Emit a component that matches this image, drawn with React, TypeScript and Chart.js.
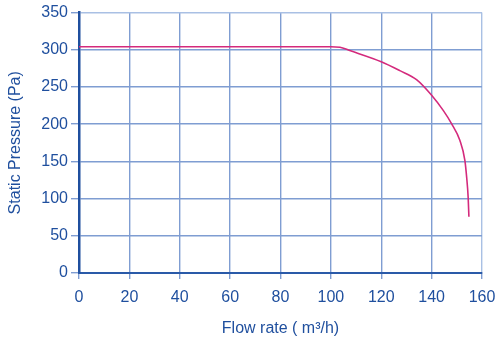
import React, { useEffect, useRef } from "react";
import { Chart, registerables } from "chart.js";

Chart.register(...registerables);

// Fan curve: static pressure against flow rate
const flowRate = [0, 100, 103.6, 107.5, 120, 127.4, 134, 140, 144.6, 147.9, 151.2, 153.2, 153.9, 154.5, 154.8];
const staticPressure = [304, 304, 303.5, 299, 284, 272, 260, 239, 218.6, 200.8, 178.4, 151.5, 129, 102, 75.5];

const xTicks = [0, 20, 40, 60, 80, 100, 120, 140, 160];
const yTicks = [0, 50, 100, 150, 200, 250, 300, 350];

const TEXT = "#1f4f9e";
const GRID = "#7f9dd2";
const FONT = "'Liberation Sans', Arial, sans-serif";

export default function App() {
  const ref = useRef<HTMLCanvasElement>(null);

  useEffect(() => {
    document.body.style.margin = "0";
    const canvas = ref.current;
    if (!canvas) return;
    const chart = new Chart(canvas, {
      type: "scatter",
      data: {
        datasets: [
          {
            data: flowRate.map((x, i) => ({ x, y: staticPressure[i] })),
            showLine: true,
            borderColor: "#d42a7c",
            borderWidth: 1.6,
            pointRadius: 0,
            cubicInterpolationMode: "monotone",
          },
        ],
      },
      options: {
        animation: false,
        responsive: false,
        maintainAspectRatio: false,
        layout: { padding: { top: 12, right: 18, left: 0, bottom: 0 } },
        plugins: { legend: { display: false }, tooltip: { enabled: false } },
        scales: {
          x: {
            type: "linear",
            min: 0,
            max: 160,
            afterBuildTicks: (s: any) => {
              s.ticks = xTicks.map((v) => ({ value: v }));
            },
            afterFit: (s: any) => {
              s.height = 65;
              s.paddingLeft = 0;
              s.paddingRight = 0;
            },
            grid: {
              color: (c: any) => (c.tick && c.tick.value === 160 ? "#a9c0e4" : GRID),
              lineWidth: 1.4,
              tickLength: 6,
              tickColor: GRID,
            },
            border: { color: "#2a5aa8", width: 2 },
            ticks: {
              color: TEXT,
              font: { family: FONT, size: 16 },
              padding: 9,
              maxRotation: 0,
            },
            title: {
              display: true,
              text: "Flow rate ( m³/h)",
              color: TEXT,
              font: { family: FONT, size: 16 },
              padding: { top: 5, bottom: 0 },
            },
          },
          y: {
            type: "linear",
            min: 0,
            max: 350,
            afterBuildTicks: (s: any) => {
              s.ticks = yTicks.map((v) => ({ value: v }));
            },
            afterFit: (s: any) => {
              s.width = 79;
            },
            grid: {
              color: (c: any) => (c.tick && c.tick.value === 350 ? "#a9c0e4" : GRID),
              lineWidth: 1.4,
              tickLength: 8,
              tickColor: GRID,
            },
            border: { color: "#1f4f9e", width: 2.5 },
            ticks: {
              color: TEXT,
              font: { family: FONT, size: 16 },
              padding: 3,
            },
            title: {
              display: true,
              text: "Static Pressure (Pa)",
              color: TEXT,
              font: { family: FONT, size: 16 },
              padding: { top: 6, bottom: 0 },
            },
          },
        },
      },
    });
    return () => chart.destroy();
  }, []);

  return (
    <div style={{ width: 500, height: 338 }}>
      <canvas ref={ref} width={500} height={338} />
    </div>
  );
}
